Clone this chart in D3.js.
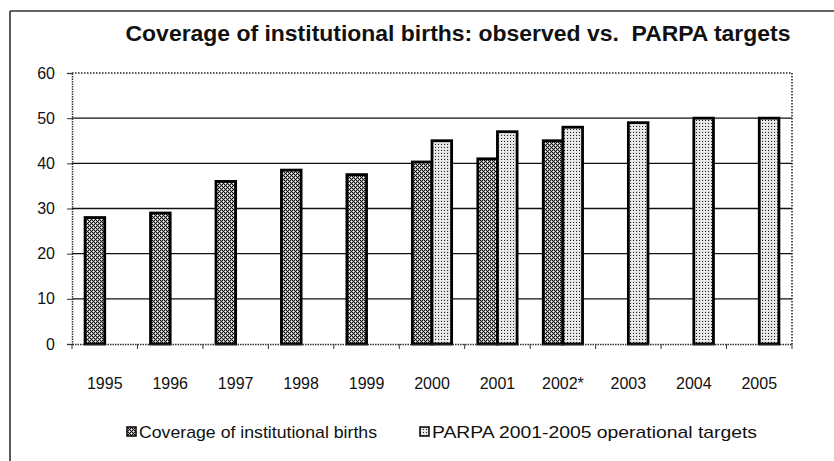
<!DOCTYPE html>
<html>
<head>
<meta charset="utf-8">
<script src="https://cdn.jsdelivr.net/npm/d3@7"></script>
<style>
  html, body { margin: 0; padding: 0; background: #fff; }
  svg { display: block; font-family: Arial, "Liberation Sans", Helvetica, sans-serif; }
</style>
</head>
<body>
<svg id="chart" width="834" height="461"></svg>
<script>
const years = ["1995","1996","1997","1998","1999","2000","2001","2002*","2003","2004","2005"];
const coverage = [28, 29, 36, 38.5, 37.5, 40.3, 41, 45, null, null, null];
const targets = [null, null, null, null, null, 45, 47, 48, 49, 50, 50];
const seriesNames = ["Coverage of institutional births", "PARPA 2001-2005 operational targets"];
const yTicks = [0, 10, 20, 30, 40, 50, 60];
const titleText = "Coverage of institutional births: observed vs.  PARPA targets";

const svg = d3.select("#chart");
const W = 834, H = 461;
const plot = {left: 72, right: 792, top: 73, bottom: 344};

// patterns
const defs = svg.append("defs");
const p1 = defs.append("pattern").attr("id", "pat1").attr("patternUnits", "userSpaceOnUse")
  .attr("width", 4).attr("height", 4);
p1.append("rect").attr("width", 4).attr("height", 4).attr("fill", "#a8a8a8");
[[0,0],[2,0],[1,1],[0,2],[2,2],[3,3]].forEach(([px,py]) =>
  p1.append("rect").attr("x", px).attr("y", py).attr("width", 1).attr("height", 1).attr("fill", "#111"));
[[3,1],[1,3]].forEach(([px,py]) =>
  p1.append("rect").attr("x", px).attr("y", py).attr("width", 1).attr("height", 1).attr("fill", "#fff"));

const p2 = defs.append("pattern").attr("id", "pat2").attr("patternUnits", "userSpaceOnUse")
  .attr("width", 3).attr("height", 3);
p2.append("rect").attr("width", 3).attr("height", 3).attr("fill", "#e2e2e2");
p2.append("rect").attr("x", 0).attr("y", 0).attr("width", 1).attr("height", 1).attr("fill", "#222");
p2.append("rect").attr("x", 2).attr("y", 1).attr("width", 1).attr("height", 1).attr("fill", "#fff");

// outer frame
svg.append("line").attr("x1", 10).attr("y1", 11).attr("x2", W).attr("y2", 11)
  .attr("stroke", "#333").attr("stroke-width", 1.5);
svg.append("line").attr("x1", 10).attr("y1", 11).attr("x2", 10).attr("y2", H)
  .attr("stroke", "#222").attr("stroke-width", 1.5);

// title
const title = svg.append("text").attr("x", 458).attr("y", 41).attr("text-anchor", "middle")
  .attr("xml:space", "preserve").style("white-space", "pre")
  .attr("font-size", 21).attr("font-weight", "bold").attr("fill", "#111")
  .text(titleText);
{
  const len = title.node().getComputedTextLength();
  title.attr("font-size", 21 * 665 / len);
}

const x = d3.scaleBand().domain(years).range([plot.left, plot.right]).padding(0);
const x1 = d3.scaleBand().domain([0, 1]).range([x.bandwidth() * 0.2, x.bandwidth() * 0.8]).padding(0);
const y = d3.scaleLinear().domain([0, 60]).range([plot.bottom, plot.top]);

// gridlines
svg.append("g").selectAll("line").data(yTicks.filter(t => t > 0 && t < 60)).join("line")
  .attr("x1", plot.left).attr("x2", plot.right)
  .attr("y1", d => y(d)).attr("y2", d => y(d))
  .attr("stroke", "#111").attr("stroke-width", 1.4);

// plot border dotted (top & right)
svg.append("line").attr("x1", plot.left).attr("x2", plot.right).attr("y1", y(60)).attr("y2", y(60))
  .attr("stroke", "#222").attr("stroke-width", 1.5).attr("stroke-dasharray", "1.5,1.5");
svg.append("line").attr("x1", plot.right).attr("x2", plot.right).attr("y1", y(60)).attr("y2", y(0))
  .attr("stroke", "#222").attr("stroke-width", 1.5).attr("stroke-dasharray", "1.5,1.5");

// bars
const bars = [];
years.forEach((yr, i) => {
  if (coverage[i] != null) bars.push({yr, s: 0, v: coverage[i]});
  if (targets[i] != null) bars.push({yr, s: 1, v: targets[i]});
});
svg.append("g").selectAll("rect").data(bars).join("rect")
  .attr("x", d => x(d.yr) + x1(d.s))
  .attr("width", x1.bandwidth())
  .attr("y", d => y(d.v))
  .attr("height", d => y(0) - y(d.v))
  .attr("fill", d => d.s === 0 ? "url(#pat1)" : "url(#pat2)")
  .attr("stroke", "#000").attr("stroke-width", 2.8);

// y axis
const yAxis = d3.axisLeft(y).tickValues(yTicks).tickSize(5).tickPadding(12);
const gy = svg.append("g").attr("transform", `translate(${plot.left},0)`).call(yAxis);
gy.select(".domain").attr("stroke", "#333").attr("stroke-width", 1.5).attr("stroke-dasharray", "1.5,1");
gy.selectAll(".tick line").attr("stroke", "#333");
gy.selectAll(".tick text").attr("font-size", 16).attr("fill", "#111")
  .attr("font-family", "Arial, 'Liberation Sans', sans-serif");

// x axis
const xAxis = d3.axisBottom(x).tickSize(0).tickPadding(0);
const gx = svg.append("g").attr("transform", `translate(0,${plot.bottom})`).call(xAxis);
gx.select(".domain").attr("stroke", "#333").attr("stroke-width", 1.5).attr("stroke-dasharray", "1.5,1");
gx.selectAll(".tick text").attr("font-size", 16).attr("fill", "#111").attr("dy", "0")
  .attr("y", 45).attr("font-family", "Arial, 'Liberation Sans', sans-serif");
// category separator ticks
const sep = years.map(d => x(d)).concat([x(years[years.length - 1]) + x.bandwidth()]);
svg.append("g").selectAll("line").data(sep).join("line")
  .attr("x1", d => d).attr("x2", d => d)
  .attr("y1", plot.bottom).attr("y2", plot.bottom + 5)
  .attr("stroke", "#333").attr("stroke-width", 1);

// legend
const legend = svg.append("g");
const legX = [127, 420];
const legW = [238, 325];
seriesNames.forEach((name, i) => {
  legend.append("rect").attr("x", legX[i]).attr("y", 427).attr("width", 9).attr("height", 9)
    .attr("fill", i === 0 ? "url(#pat1)" : "url(#pat2)").attr("stroke", "#000").attr("stroke-width", 1.5);
  const t = legend.append("text").attr("x", legX[i] + 12).attr("y", 438).attr("font-size", 17).attr("fill", "#111")
    .text(name);
  t.attr("textLength", legW[i]).attr("lengthAdjust", "spacingAndGlyphs");
});
</script>
</body>
</html>
